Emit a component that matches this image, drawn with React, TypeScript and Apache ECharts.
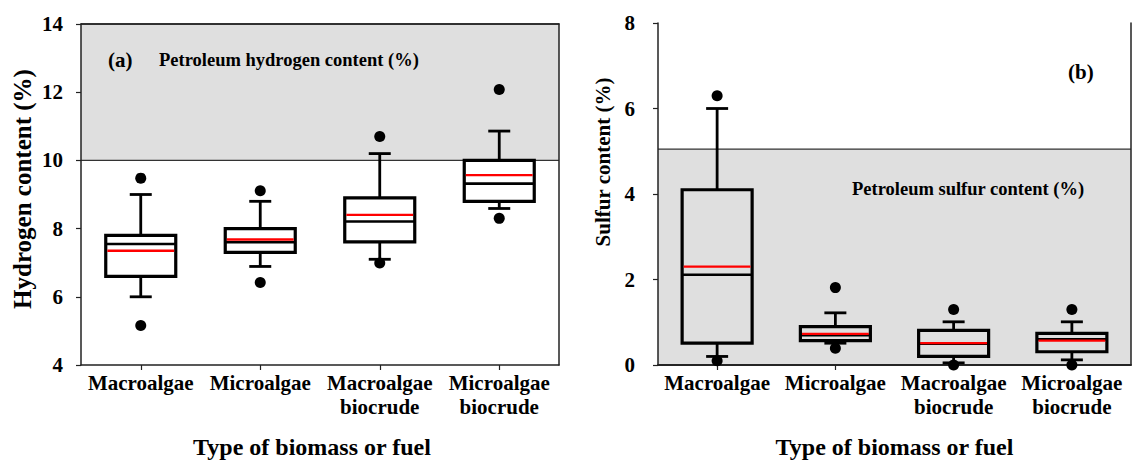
import React, { useEffect, useRef } from "react";
import * as echarts from "echarts";

// ---------- data ----------
const categories = ["Macroalgae", "Microalgae", "Macroalgae\nbiocrude", "Microalgae\nbiocrude"];

// [min whisker, Q1, median, Q3, max whisker]
const hydrogenBoxes = [
  [6.0, 6.6, 7.55, 7.8, 9.0],
  [6.89, 7.3, 7.6, 8.0, 8.8],
  [7.1, 7.61, 8.21, 8.9, 10.2],
  [8.59, 8.8, 9.32, 10.0, 10.86],
];
const hydrogenMeans = [7.35, 7.68, 8.4, 9.57];
const hydrogenOutliers = [
  [0, 9.48], [0, 5.16],
  [1, 9.11], [1, 6.42],
  [2, 10.7], [2, 6.99],
  [3, 12.08], [3, 8.3],
];

const sulfurBoxes = [
  [0.2, 0.51, 2.11, 4.1, 6.0],
  [0.51, 0.57, 0.7, 0.9, 1.22],
  [0.05, 0.2, 0.5, 0.81, 1.01],
  [0.12, 0.31, 0.6, 0.74, 1.01],
];
const sulfurMeans = [2.3, 0.73, 0.51, 0.57];
const sulfurOutliers = [
  [0, 6.3], [0, 0.1],
  [1, 1.81], [1, 0.39],
  [2, 1.3], [2, 0.0],
  [3, 1.3], [3, 0.0],
];

const hydrogenAxis = { min: 4, max: 14, interval: 2 };
const sulfurAxis = { min: 0, max: 8, interval: 2 };
const petroleumHydrogen = [10, 14];
const petroleumSulfur = [0, 5.05];

const FONT = '"Liberation Serif", "Times New Roman", serif';

function boxRender(boxW: number, capW: number) {
  return (params: any, api: any) => {
    const idx = api.value(0);
    const mn = api.value(1), q1 = api.value(2), md = api.value(3), q3 = api.value(4), mx = api.value(5), mean = api.value(6);
    const cx = api.coord([idx, mn])[0];
    const yMin = api.coord([idx, mn])[1];
    const yQ1 = api.coord([idx, q1])[1];
    const yMd = api.coord([idx, md])[1];
    const yQ3 = api.coord([idx, q3])[1];
    const yMx = api.coord([idx, mx])[1];
    const yMean = api.coord([idx, mean])[1];
    const wl = { stroke: "#000", lineWidth: 2.8 };
    return {
      type: "group",
      children: [
        { type: "line", shape: { x1: cx, y1: yQ3, x2: cx, y2: yMx }, style: wl },
        { type: "line", shape: { x1: cx - capW / 2, y1: yMx, x2: cx + capW / 2, y2: yMx }, style: wl },
        { type: "line", shape: { x1: cx, y1: yQ1, x2: cx, y2: yMin }, style: wl },
        { type: "line", shape: { x1: cx - capW / 2, y1: yMin, x2: cx + capW / 2, y2: yMin }, style: wl },
        { type: "rect", shape: { x: cx - boxW / 2, y: yQ3, width: boxW, height: yQ1 - yQ3 }, style: { fill: "none", stroke: "#000", lineWidth: 3.2 } },
        { type: "line", shape: { x1: cx - boxW / 2, y1: yMd, x2: cx + boxW / 2, y2: yMd }, style: { stroke: "#000", lineWidth: 2.6 } },
        { type: "line", shape: { x1: cx - boxW / 2 + 1.6, y1: yMean, x2: cx + boxW / 2 - 1.6, y2: yMean }, style: { stroke: "#ff0000", lineWidth: 2.3 } },
      ],
    };
  };
}

function bandRender(params: any, api: any) {
  const cs = params.coordSys;
  const y0 = api.coord([0, api.value(1)])[1];
  const y1 = api.coord([0, api.value(2)])[1];
  const top = Math.min(y0, y1);
  const bottom = Math.max(y0, y1);
  return {
    type: "group",
    children: [
      { type: "rect", shape: { x: cs.x, y: top, width: cs.width, height: bottom - top }, style: { fill: "#dfdfdf" } },
      { type: "line", shape: { x1: cs.x, y1: top, x2: cs.x + cs.width, y2: top }, style: { stroke: "#333", lineWidth: 1.3 } },
      { type: "line", shape: { x1: cs.x, y1: bottom, x2: cs.x + cs.width, y2: bottom }, style: { stroke: "#333", lineWidth: 1.3 } },
    ],
  };
}

export default function App() {
  const ref = useRef<HTMLDivElement>(null);
  useEffect(() => {
    if (!ref.current) return;
    const chart = echarts.init(ref.current, undefined, { renderer: "svg" });

    const tickLabel = { color: "#000", fontFamily: FONT, fontWeight: "bold", fontSize: 21 };
    const mkX = (gridIndex: number, namePad: number[]) => ({
      type: "category",
      gridIndex,
      data: categories,
      z: 3,
      axisLine: { show: true, lineStyle: { color: "#222", width: 1.5 } },
      axisTick: { show: true, alignWithLabel: true, length: 5, lineStyle: { color: "#222", width: 1.2 } },
      axisLabel: { ...tickLabel, margin: 6, lineHeight: 24, interval: 0 },
      name: "Type of biomass or fuel",
      nameLocation: "middle",
      nameGap: 70,
      nameTextStyle: { color: "#000", fontFamily: FONT, fontWeight: "bold", fontSize: 24, padding: namePad },
    });
    const mkTopX = (gridIndex: number) => ({
      type: "category",
      gridIndex,
      position: "top",
      data: categories,
      z: 3,
      axisLine: { show: true, lineStyle: { color: "#222", width: 1.5 } },
      axisTick: { show: false },
      axisLabel: { show: false },
    });
    const mkY = (gridIndex: number, ax: any, name: string, size: number, gap: number, margin: number, pad: number[]) => ({
      type: "value",
      gridIndex,
      min: ax.min,
      max: ax.max,
      interval: ax.interval,
      z: 3,
      splitLine: { show: false },
      axisLine: { show: true, lineStyle: { color: "#222", width: 1.5 } },
      axisTick: { show: true, length: 5, lineStyle: { color: "#222", width: 1.2 } },
      axisLabel: { ...tickLabel, margin },
      name,
      nameLocation: "middle",
      nameGap: gap,
      nameTextStyle: { color: "#000", fontFamily: FONT, fontWeight: "bold", fontSize: size, padding: pad },
    });
    const mkRightY = (gridIndex: number, ax: any) => ({
      type: "value",
      gridIndex,
      position: "right",
      min: ax.min,
      max: ax.max,
      interval: ax.interval,
      z: 3,
      splitLine: { show: false },
      axisLine: { show: true, lineStyle: { color: "#222", width: 1.5 } },
      axisTick: { show: false },
      axisLabel: { show: false },
    });

    const txt = (text: string, x: number, y: number, size: number) => ({
      type: "text",
      x,
      y,
      z: 50,
      style: {
        text,
        fill: "#000",
        fontFamily: FONT,
        fontWeight: "bold",
        fontSize: size,
        align: "left",
        verticalAlign: "middle",
        textAlign: "left",
        textVerticalAlign: "middle",
      },
    });

    chart.setOption({
      animation: false,
      backgroundColor: "#fff",
      grid: [
        { left: 81, top: 24, width: 478, height: 343 },
        { left: 658, top: 23, width: 473, height: 344 },
      ],
      xAxis: [mkX(0, [0, 16, 0, 0]), mkX(1, [0, 0, 0, 0]), mkTopX(0), mkTopX(1)],
      yAxis: [
        mkY(0, hydrogenAxis, "Hydrogen content (%)", 25, 46, 18, [0, 0, 0, 11]),
        mkY(1, sulfurAxis, "Sulfur content (%)", 21, 45, 23, [0, 0, 0, 64]),
        mkRightY(0, hydrogenAxis),
        mkRightY(1, sulfurAxis),
      ],
      series: [
        {
          type: "custom",
          xAxisIndex: 0,
          yAxisIndex: 0,
          z: 1,
          silent: true,
          renderItem: bandRender,
          encode: { x: 0, y: [1, 2] },
          data: [[0, petroleumHydrogen[0], petroleumHydrogen[1]]],
        },
        {
          type: "custom",
          xAxisIndex: 1,
          yAxisIndex: 1,
          z: 1,
          silent: true,
          renderItem: bandRender,
          encode: { x: 0, y: [1, 2] },
          data: [[0, petroleumSulfur[0], petroleumSulfur[1]]],
        },
        {
          type: "custom",
          name: "Hydrogen",
          xAxisIndex: 0,
          yAxisIndex: 0,
          z: 10,
          renderItem: boxRender(70, 22),
          encode: { x: 0, y: [1, 2, 3, 4, 5, 6] },
          data: hydrogenBoxes.map((b, i) => [i, ...b, hydrogenMeans[i]]),
        },
        {
          type: "custom",
          name: "Sulfur",
          xAxisIndex: 1,
          yAxisIndex: 1,
          z: 10,
          renderItem: boxRender(70, 22),
          encode: { x: 0, y: [1, 2, 3, 4, 5, 6] },
          data: sulfurBoxes.map((b, i) => [i, ...b, sulfurMeans[i]]),
        },
        {
          type: "scatter",
          xAxisIndex: 0,
          yAxisIndex: 0,
          z: 20,
          symbol: "circle",
          symbolSize: 11,
          itemStyle: { color: "#000", opacity: 1 },
          data: hydrogenOutliers,
        },
        {
          type: "scatter",
          xAxisIndex: 1,
          yAxisIndex: 1,
          z: 20,
          symbol: "circle",
          symbolSize: 11,
          itemStyle: { color: "#000", opacity: 1 },
          data: sulfurOutliers,
        },
      ],
      graphic: [
        txt("(a)", 108, 60, 21),
        txt("Petroleum hydrogen content (%)", 159, 60, 18.5),
        txt("(b)", 1068, 72, 21),
        txt("Petroleum sulfur content (%)", 852, 189, 18.5),
      ],
    });
    return () => chart.dispose();
  }, []);
  return <div ref={ref} style={{ position: "fixed", left: 0, top: 0, width: 1135, height: 464 }} />;
}
